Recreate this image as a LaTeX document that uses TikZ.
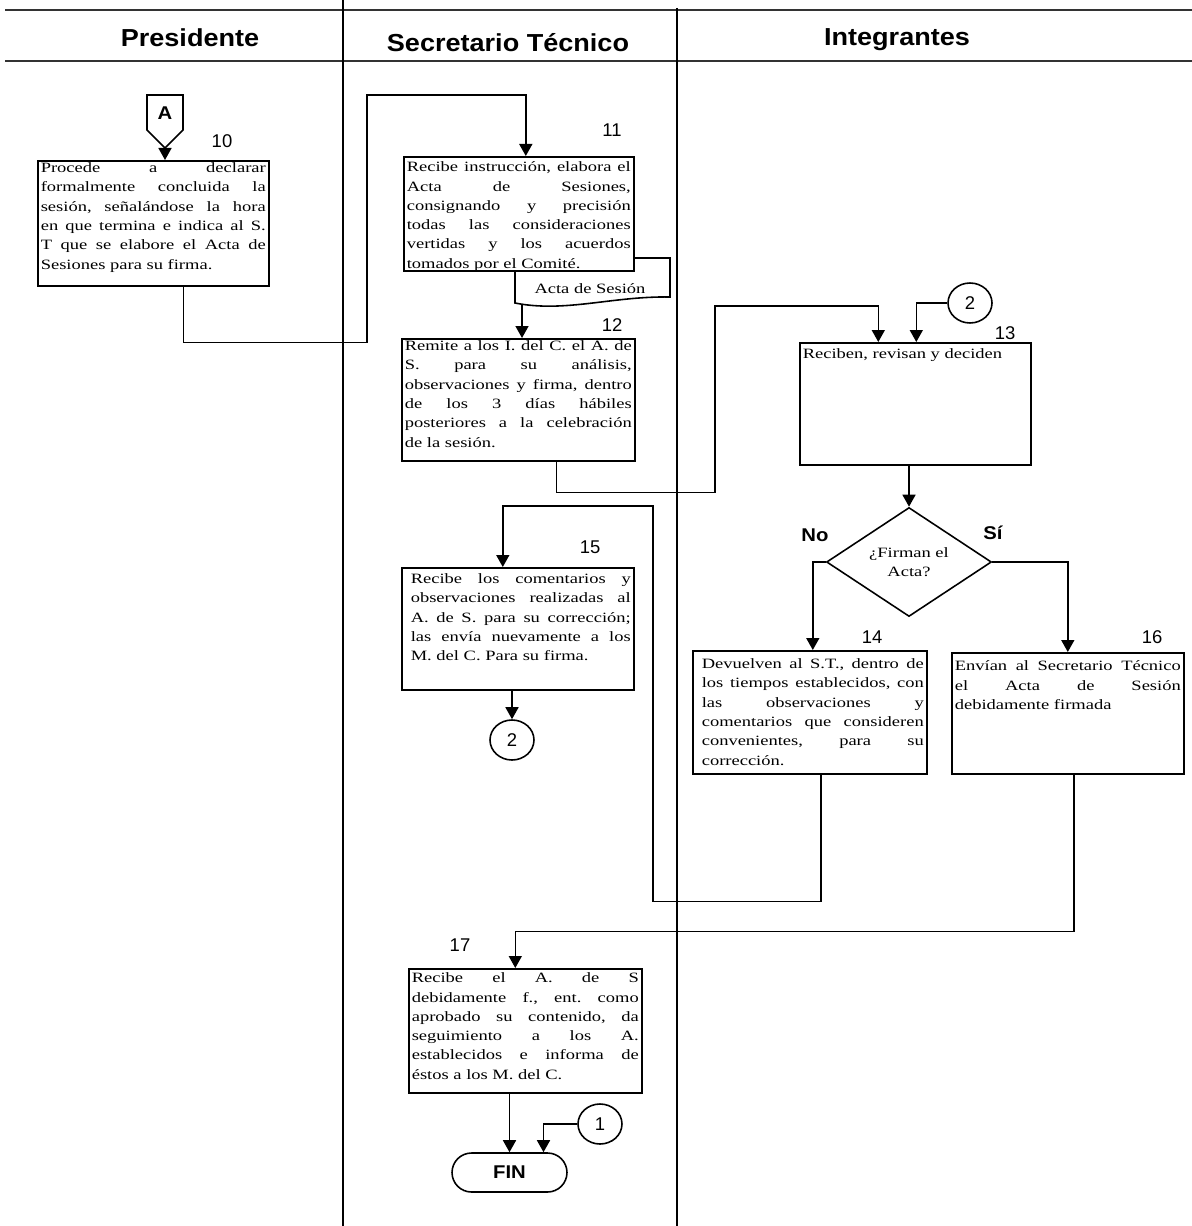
\documentclass[tikz,border=0pt]{standalone}
\usepackage{fontspec}
\setmainfont{Liberation Serif}
\newfontfamily\boxfont[FakeStretch=1.3]{Liberation Serif}
\newfontfamily\headfont[FakeStretch=1.1]{Liberation Sans}
\newfontfamily\numfont{Liberation Sans}
\usetikzlibrary{arrows.meta,shapes.geometric,calc}
\newlength\pxl
\setlength\pxl{0.02cm}
% text of a step: [left indent]{width}{height}{text}, sizes in pixels
\newcommand{\caja}[4][0]{\parbox[c][\dimexpr#3\pxl-4\pxl\relax][t]{\dimexpr#2\pxl-6\pxl\relax}{%
  \boxfont\fontsize{8.1}{11}\selectfont\frenchspacing\hyphenpenalty=10000\tolerance=10000\hbadness=10000
  \leftskip=#1\pxl\relax #4}}
\tikzset{
  caja/.style={draw, line width=0.9pt, fill=white, inner xsep=0.06cm, inner ysep=0.04cm, anchor=north west},
  flecha/.style={line width=0.9pt, -{Triangle[length=0.24cm,width=0.26cm]}},
  linea/.style={line width=0.9pt},
  regla/.style={line width=1.6pt, black!80},
  titulo/.style={font=\headfont\bfseries\fontsize{14}{16}\selectfont},
  num/.style={font=\numfont\fontsize{10.5}{12}\selectfont},
  conector/.style={draw, ellipse, line width=0.9pt, fill=white, minimum width=0.88cm, minimum height=0.8cm,
    inner sep=0pt, font=\numfont\fontsize{10.5}{12}\selectfont},
}
\begin{document}
\begin{tikzpicture}[x=0.02cm, y=-0.02cm]
  \useasboundingbox (0,0) rectangle (1192,1226);
  % swimlanes
  \draw[regla] (5,10) -- (1192,10);
  \draw[regla] (5,61) -- (1192,61);
  \draw[linea] (343,0) -- (343,1226);
  \draw[linea] (677,8) -- (677,1226);
  \node[titulo] (tpres) at (190,38) {Presidente};
  \node[titulo] (tsec) at (508,43) {Secretario Técnico};
  \node[titulo] (tint) at (897,40) {Integrantes};

  % connector A
  \draw[linea] (147,95) -- (183,95) -- (183,130) -- (165,148) -- (147,130) -- cycle;
  \node[font=\headfont\bfseries\fontsize{10.5}{12}\selectfont] (conA) at (165,113) {A};
  \coordinate (conAb) at (165,148);

  % document, partly behind step 11
  \draw[linea, fill=white] (515,258) -- (670,258) -- (670,297)
    .. controls (612,296) and (565,313) .. (515,303) -- cycle;
  \node[font=\boxfont\fontsize{8.1}{11}\selectfont] (acta) at (590,289) {Acta de Sesión};
  \coordinate (actab) at (522,305);

  % steps
  \node[caja] (b10) at (37,160) {\caja{231}{125}{Procede a declarar\linebreak formalmente concluida la\linebreak sesión, señalándose la hora\linebreak en que termina e indica al S.\linebreak T que se elabore el Acta de\linebreak Sesiones para su firma.}};
  \node[caja] (b11) at (403,156) {\caja{230}{114}{\vspace*{3\pxl}Recibe instrucción, elabora el\linebreak Acta de Sesiones,\linebreak consignando y precisión\linebreak todas las consideraciones\linebreak vertidas y los acuerdos\linebreak tomados por el Comité.}};
  \node[caja] (b12) at (401,338) {\caja{233}{122}{Remite a los I. del C. el A. de\linebreak S. para su análisis,\linebreak observaciones y firma, dentro\linebreak de los 3 días hábiles\linebreak posteriores a la celebración\linebreak de la sesión.}};
  \node[caja] (b13) at (799,342) {\caja{231}{122}{\vspace*{4\pxl}Reciben, revisan y deciden}};
  \node[caja] (b14) at (692,650) {\caja[6]{234}{123}{\vspace*{6\pxl}Devuelven al S.T., dentro de\linebreak los tiempos establecidos, con\linebreak las observaciones y\linebreak comentarios que consideren\linebreak convenientes, para su\linebreak corrección.}};
  \node[caja] (b16) at (951,652) {\caja{232}{121}{\vspace*{6\pxl}Envían al Secretario Técnico\linebreak el Acta de Sesión\linebreak debidamente firmada}};
  \node[caja] (b15) at (401,567) {\caja[6]{232}{122}{\vspace*{4\pxl}Recibe los comentarios y\linebreak observaciones realizadas al\linebreak A. de S. para su corrección;\linebreak las envía nuevamente a los\linebreak M. del C. Para su firma.}};
  \node[caja] (b17) at (408,968) {\caja{233}{124}{\vspace*{2\pxl}Recibe el A. de S\linebreak debidamente f., ent. como\linebreak aprobado su contenido, da\linebreak seguimiento a los A.\linebreak establecidos e informa de\linebreak éstos a los M. del C.}};

  % decision
  \node[draw, diamond, line width=0.9pt, minimum width=3.3cm, minimum height=2.16cm, inner sep=0pt,
    align=center, font=\boxfont\fontsize{8.1}{11}\selectfont] (dec) at (909,562) {¿Firman el\\Acta?};
  \node[font=\headfont\bfseries\fontsize{10.5}{12}\selectfont] (no) at (815,535) {No};
  \node[font=\headfont\bfseries\fontsize{10.5}{12}\selectfont] (si) at (993,533) {Sí};

  % connectors and end
  \node[conector] (c2a) at (970,303) {2};
  \node[conector] (c2b) at (512,740) {2};
  \node[conector] (c1) at (600,1124) {1};
  \node[draw, line width=0.9pt, rounded corners=0.39cm, minimum width=2.3cm, minimum height=0.78cm,
    font=\headfont\bfseries\fontsize{10.5}{12}\selectfont] (fin) at (509.5,1172.5) {FIN};

  % step numbers
  \node[num] (n10) at (222,141) {10};
  \node[num] (n11) at (612,130) {11};
  \node[num] (n12) at (612,325) {12};
  \node[num] (n13) at (1005,333) {13};
  \node[num] (n14) at (872,637) {14};
  \node[num] (n15) at (590,547) {15};
  \node[num] (n16) at (1152,637) {16};
  \node[num] (n17) at (460,945) {17};

  \begin{scope}[flecha]
    \draw (conAb) -- (conAb |- b10.north);
    \draw ($(b10.south)+(30,0)$) -- ++(0,56) -| (367,95) -| ($(b11.north)+(7,0)$);
    \draw (actab) -- (actab |- b12.north);
    \draw ($(b12.south)+(38,0)$) -- ++(0,31) -| (715,306) -| ($(b13.north)+(-37,0)$);
    \draw (c2a.west) -| ($(b13.north)+(1,0)$);
    \draw (dec.north |- b13.south) -- (dec.north);
    \draw (dec.west) -| ($(b14.north)+(3,0)$);
    \draw (dec.east) -| (b16.north);
    \draw ($(b14.south)+(11,0)$) -- ++(0,127) -| (653,506) -| ($(b15.north)+(-15,0)$);
    \draw (c2b.north |- b15.south) -- (c2b.north);
    \draw ($(b16.south)+(6,0)$) -- ++(0,157) -| ($(b17.north)+(-10,0)$);
    \draw (fin.north |- b17.south) -- (fin.north);
    \draw (c1.west) -| ($(fin.north)+(34,0)$);
  \end{scope}
\end{tikzpicture}
\end{document}
